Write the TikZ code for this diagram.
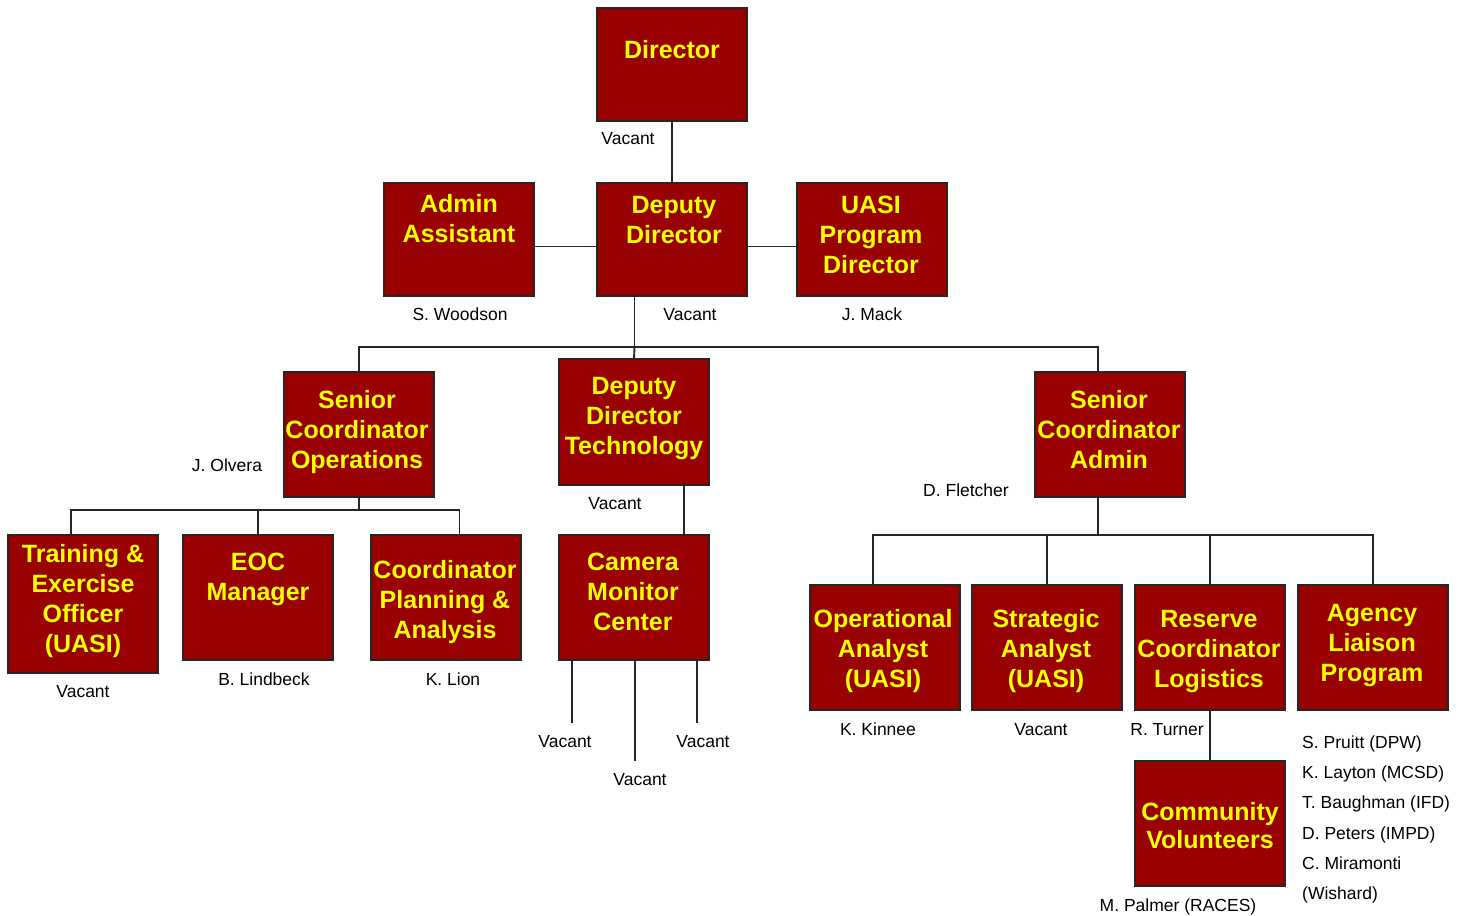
\documentclass[tikz,border=0pt]{standalone}
\usepackage{fontspec}
\setmainfont{Liberation Sans}
\usetikzlibrary{calc}
\definecolor{boxred}{HTML}{990000}
\definecolor{boxyel}{HTML}{FFFF00}
\definecolor{linegray}{HTML}{262626}
\begin{document}
\begin{tikzpicture}[x=1pt,y=-1pt,
  orgbox/.style={draw=black!85, line width=1.6pt, fill=boxred, inner sep=0pt, outer sep=0pt, minimum width=150pt},
  boxtxt/.style={text=boxyel, font=\fontsize{25}{30}\selectfont\bfseries, align=center, inner sep=0pt},
  lbl/.style={text=black, font=\fontsize{17.5}{20}\selectfont, inner sep=0pt, anchor=base},
  conn/.style={draw=linegray, line width=1.9pt}]
\useasboundingbox (0,0) rectangle (1466,915);

% ---------- boxes ----------
\node[orgbox, minimum height=113pt] (dir)  at (672,64.5)  {};
\node[orgbox, minimum height=113pt] (adm)  at (459,239.5) {};
\node[orgbox, minimum height=113pt] (dep)  at (672,239.5) {};
\node[orgbox, minimum height=113pt] (uasi) at (872,239.5) {};
\node[orgbox, minimum height=125pt] (sco)  at (359,434.5) {};
\node[orgbox, minimum height=126pt] (ddt)  at (634,422)   {};
\node[orgbox, minimum height=125pt] (sca)  at (1110,434.5) {};
\node[orgbox, minimum height=138pt] (trn)  at (83,604)    {};
\node[orgbox, minimum height=125pt] (eoc)  at (258,597.5) {};
\node[orgbox, minimum height=125pt] (cpa)  at (446,597.5) {};
\node[orgbox, minimum height=125pt] (cam)  at (634,597.5) {};
\node[orgbox, minimum height=125pt] (opa)  at (885,647.5) {};
\node[orgbox, minimum height=125pt] (sta)  at (1047,647.5) {};
\node[orgbox, minimum height=125pt] (res)  at (1210,647.5) {};
\node[orgbox, minimum height=125pt] (agy)  at (1373,647.5) {};
\node[orgbox, minimum height=125pt] (com)  at (1210,823.5) {};

% ---------- box texts ----------
\node[boxtxt] (dirT)  at (672,50)    {Director};
\node[boxtxt] (admT)  at (459,219)   {Admin\\Assistant};
\node[boxtxt] (depT)  at (674,220)   {Deputy\\Director};
\node[boxtxt] (uasiT) at (871,235)   {UASI\\Program\\Director};
\node[boxtxt] (scoT)  at (357,432)   {Senior\\Coordinator\\Operations};
\node[boxtxt] (ddtT)  at (634,418.5) {Deputy\\Director\\Technology};
\node[boxtxt] (scaT)  at (1109,430)  {Senior\\Coordinator\\Admin};
\node[boxtxt] (trnT)  at (83,601)    {Training \&\\Exercise\\Officer\\(UASI)};
\node[boxtxt] (eocT)  at (258,579.5) {EOC\\Manager};
\node[boxtxt] (cpaT)  at (445,602)   {Coordinator\\Planning \&\\Analysis};
\node[boxtxt] (camT)  at (633,592)   {Camera\\Monitor\\Center};
\node[boxtxt] (opaT)  at (883,651.5) {Operational\\Analyst\\(UASI)};
\node[boxtxt] (staT)  at (1046,651.5) {Strategic\\Analyst\\(UASI)};
\node[boxtxt] (resT)  at (1209,651.5) {Reserve\\Coordinator\\Logistics};
\node[boxtxt] (agyT)  at (1372,645.5) {Agency\\Liaison\\Program};
\node[boxtxt, font=\fontsize{25}{28}\selectfont\bfseries] (comT) at (1210,826) {Community\\Volunteers};

% ---------- name labels ----------
\node[lbl] (nDir)  at (628,144)  {Vacant};
\node[lbl] (nAdm)  at (460,320)  {S. Woodson};
\node[lbl] (nDep)  at (690,320)  {Vacant};
\node[lbl] (nUasi) at (872,320)  {J. Mack};
\node[lbl] (nSco)  at (227,471)  {J. Olvera};
\node[lbl] (nDdt)  at (615,509)  {Vacant};
\node[lbl] (nSca)  at (966,496)  {D. Fletcher};
\node[lbl] (nTrn)  at (83,697)   {Vacant};
\node[lbl] (nEoc)  at (264,685)  {B. Lindbeck};
\node[lbl] (nCpa)  at (453,685)  {K. Lion};
\node[lbl] (nCam1) at (565,747)  {Vacant};
\node[lbl] (nCam3) at (703,747)  {Vacant};
\node[lbl] (nCam2) at (640,785)  {Vacant};
\node[lbl] (nOpa)  at (878,735)  {K. Kinnee};
\node[lbl] (nSta)  at (1041,735) {Vacant};
\node[lbl] (nRes)  at (1167,735) {R. Turner};
\node[lbl] (nCom)  at (1178,911) {M. Palmer (RACES)};
\node[lbl, anchor=base west] (nAg1) at (1302,748) {S. Pruitt (DPW)};
\node[lbl, anchor=base west] (nAg2) at (1302,778) {K. Layton (MCSD)};
\node[lbl, anchor=base west] (nAg3) at (1302,808) {T. Baughman (IFD)};
\node[lbl, anchor=base west] (nAg4) at (1302,839) {D. Peters (IMPD)};
\node[lbl, anchor=base west] (nAg5) at (1302,869) {C. Miramonti};
\node[lbl, anchor=base west] (nAg6) at (1302,899) {(Wishard)};

% ---------- connectors ----------
\draw[conn] (dir.south) -- (dep.north);
\draw[conn] ($(adm.east)+(0,7)$) -- ($(dep.west)+(0,7)$);
\draw[conn] ($(dep.east)+(0,7)$) -- ($(uasi.west)+(0,7)$);

\coordinate (depOut) at ($(dep.south west)!0.25!(dep.south east)$);
\coordinate (scaIn)  at ($(sca.north west)!0.42!(sca.north east)$);
\coordinate (bus1) at (634.5,347);
\draw[conn] (depOut) -- (bus1);
\draw[conn] (sco.north) |- (bus1) -| (scaIn);
\draw[conn] (bus1) -- (ddt.north);

\coordinate (bus2) at (359,510);
\coordinate (trnIn) at ($(trn.north west)!0.42!(trn.north east)$);
\coordinate (cpaIn) at ($(cpa.north west)!0.59!(cpa.north east)$);
\draw[conn] (sco.south) -- (bus2);
\draw[conn] (trnIn) |- (bus2) -| (cpaIn);
\draw[conn] (bus2 -| eoc.north) -- (eoc.north);

\coordinate (ddtOut) at ($(ddt.south west)!0.833!(ddt.south east)$);
\draw[conn] (ddtOut) -- (ddtOut |- cam.north);

\coordinate (v1) at (572,723);
\coordinate (v2) at (635,761);
\coordinate (v3) at (697,723);
\draw[conn] (v1 |- cam.south) -- (v1);
\draw[conn] (v2 |- cam.south) -- (v2);
\draw[conn] (v3 |- cam.south) -- (v3);

\coordinate (bus3) at (1098,535);
\coordinate (opaIn) at ($(opa.north west)!0.42!(opa.north east)$);
\draw[conn] (scaIn |- sca.south) -- (bus3);
\draw[conn] (opaIn) |- (bus3) -| (agy.north);
\draw[conn] (bus3 -| sta.north) -- (sta.north);
\draw[conn] (bus3 -| res.north) -- (res.north);
\draw[conn] (res.south) -- (com.north);
\end{tikzpicture}
\end{document}
